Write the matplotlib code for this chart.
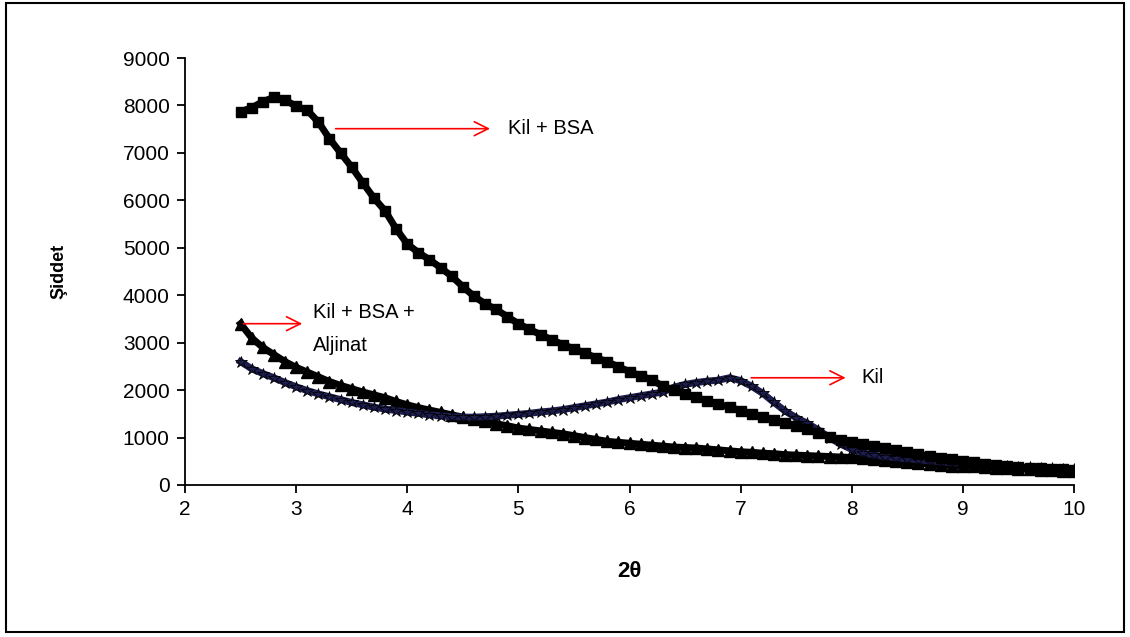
import numpy as np
import matplotlib
matplotlib.use("Agg")
import matplotlib.pyplot as plt
from matplotlib.patches import Rectangle

plt.rcParams['font.family'] = ['Liberation Sans', 'DejaVu Sans']

# 2theta values (read every 0.1 from the plot)
two_theta = np.round(np.arange(25, 101) / 10.0, 1)

# Kil + BSA (square markers)
kil_bsa = [7870, 7950, 8080, 8170, 8120, 7980, 7900, 7650, 7300, 7000,
           6700, 6370, 6050, 5780, 5400, 5080, 4900, 4750, 4580, 4400,
           4180, 3980, 3820, 3700, 3550, 3400, 3280, 3170, 3060, 2960,
           2870, 2780, 2680, 2600, 2490, 2390, 2300, 2220, 2080, 2000,
           1920, 1850, 1770, 1700, 1640, 1570, 1500, 1430, 1370, 1310,
           1240, 1170, 1090, 1010, 950, 900, 860, 820, 780, 740,
           690, 650, 610, 570, 540, 510, 480, 450, 420, 400,
           380, 360, 350, 340, 330, 320]

# Kil + BSA + Aljinat (triangle markers)
kil_bsa_alj = [3400, 3100, 2900, 2750, 2600, 2480, 2380, 2280, 2180, 2100,
               2030, 1960, 1900, 1840, 1760, 1690, 1630, 1580, 1530, 1480,
               1430, 1390, 1340, 1290, 1250, 1200, 1170, 1140, 1110, 1080,
               1040, 1000, 960, 920, 900, 880, 860, 840, 820, 800,
               790, 780, 760, 740, 720, 700, 690, 670, 660, 640,
               630, 620, 610, 600, 590, 580, 560, 540, 520, 500,
               480, 460, 440, 420, 410, 400, 390, 370, 360, 350,
               340, 330, 320, 310, 300, 300]

# Kil (star markers, navy)
kil = [2600, 2450, 2350, 2260, 2160, 2070, 1990, 1920, 1860, 1800,
       1740, 1690, 1640, 1600, 1570, 1540, 1510, 1480, 1460, 1440,
       1430, 1430, 1440, 1450, 1470, 1490, 1510, 1540, 1560, 1590,
       1630, 1670, 1710, 1750, 1800, 1840, 1880, 1920, 1960, 2060,
       2120, 2160, 2190, 2210, 2260, 2200, 2080, 1930, 1740, 1560,
       1420, 1300, 1160, 1000, 860, 750, 680, 630, 600, 570,
       550, 530, 510, 490, 470, 460, 440, 420, 410, 390,
       380, 370, 360, 350, 340, 340]

fig = plt.figure(figsize=(11.3, 6.37), dpi=100)
ax = fig.add_axes([185 / 1130, 1 - 485 / 637, (1074 - 185) / 1130, (485 - 58) / 637])

ax.plot(two_theta, kil_bsa_alj, color='black', lw=5, marker='^', ms=8,
        mfc='black', mec='black')
ax.plot(two_theta, kil, color='#1c1c4e', lw=5, marker='*', ms=9,
        mfc='#1c1c4e', mec='black', mew=0.6)
ax.plot(two_theta, kil_bsa, color='black', lw=5, marker='s', ms=7,
        mfc='black', mec='black')

ax.set_xlim(2, 10)
ax.set_ylim(0, 9000)
ax.set_xticks(range(2, 11))
ax.set_yticks(range(0, 9001, 1000))
ax.spines['top'].set_visible(False)
ax.spines['right'].set_visible(False)
for s in ['left', 'bottom']:
    ax.spines[s].set_linewidth(1.3)
ax.tick_params(direction='out', length=6, width=1.3, labelsize=15, pad=5)

ax.set_xlabel('2θ', fontsize=16, fontweight='bold', labelpad=30)
ax.set_ylabel('Şiddet', fontsize=13, fontweight='bold', labelpad=40)

arrow = dict(arrowstyle='->', color='red', lw=1.2, mutation_scale=25)
ax.annotate('', xy=(4.77, 7510), xytext=(3.33, 7510), arrowprops=arrow)
ax.text(4.91, 7510, 'Kil + BSA', fontsize=14.5, va='center', ha='left')
ax.annotate('', xy=(3.08, 3400), xytext=(2.5, 3400), arrowprops=arrow)
ax.text(3.15, 3630, 'Kil + BSA +', fontsize=14.5, va='center', ha='left')
ax.text(3.15, 2950, 'Aljinat', fontsize=14.5, va='center', ha='left')
ax.annotate('', xy=(7.97, 2260), xytext=(7.07, 2260), arrowprops=arrow)
ax.text(8.09, 2260, 'Kil', fontsize=14.5, va='center', ha='left')

fig.patches.append(Rectangle((6 / 1130, 1 - 632 / 637), 1118 / 1130, 629 / 637,
                             transform=fig.transFigure, fill=False,
                             edgecolor='black', lw=1.5))

fig.savefig('out.png', dpi=100)
